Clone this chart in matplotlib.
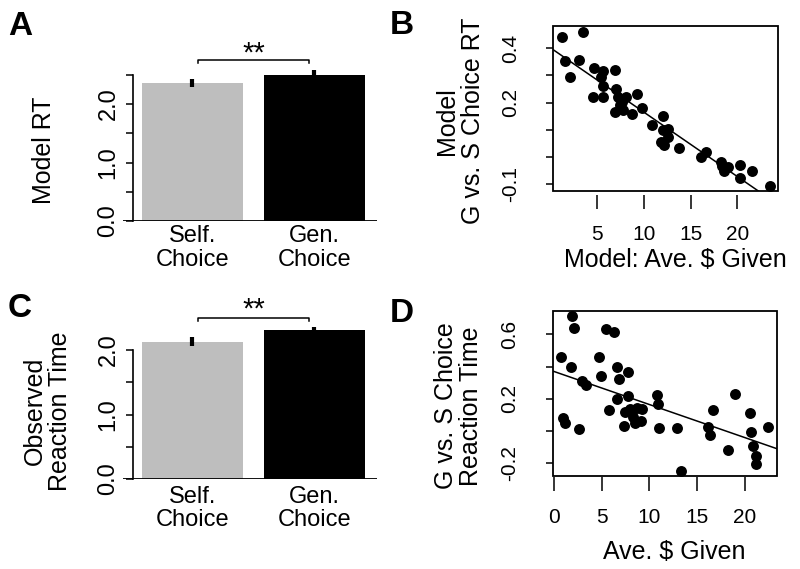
import numpy as np
import matplotlib
matplotlib.use('Agg')
import matplotlib.pyplot as plt
from matplotlib.patches import Rectangle

plt.rcParams['font.family'] = 'Liberation Sans'

# bar panels (A: model, C: observed)
bar_labels = ['Self.\nChoice', 'Gen.\nChoice']
bar_colors = ['#bebebe', 'black']
model_rt = [2.36, 2.535]
model_rt_err = [0.07, 0.05]
obs_rt = [2.13, 2.31]
obs_rt_err = [0.075, 0.045]

# scatter B: model ave $ given vs model G-S RT difference
model_given = [1.18, 3.43, 1.53, 2.99, 2.07, 4.64, 5.64, 5.36, 6.93, 5.64, 4.57, 5.57, 7.0, 7.25,
               7.61, 8.07, 7.43, 6.89, 7.79, 9.21, 8.68, 9.75, 10.82, 12.07, 12.0, 12.6, 12.6,
               11.8, 12.14, 13.78, 16.07, 16.6, 18.21, 18.39, 18.57, 19.0, 20.29, 20.25, 21.61, 23.5]
model_diff = [0.441, 0.461, 0.353, 0.357, 0.293, 0.326, 0.317, 0.296, 0.320, 0.262, 0.220, 0.222,
              0.250, 0.222, 0.204, 0.222, 0.191, 0.167, 0.173, 0.231, 0.157, 0.179, 0.118, 0.151,
              0.099, 0.102, 0.073, 0.054, 0.044, 0.034, 0.001, 0.020, -0.017, -0.033, -0.050,
              -0.038, -0.029, -0.076, -0.050, -0.106]
model_fit = (0.401, -0.02365)  # intercept, slope

# scatter D: observed ave $ given vs observed G-S RT difference
obs_given = [1.88, 2.12, 0.73, 1.78, 2.93, 3.38, 0.94, 1.21, 2.61, 4.77, 4.91, 5.47, 6.30, 6.62,
             6.79, 7.77, 5.78, 6.65, 7.77, 7.49, 7.98, 8.68, 7.38, 8.32, 8.50, 9.13, 9.2, 10.77,
             10.94, 11.0, 12.92, 13.31, 16.16, 16.34, 16.69, 18.25, 18.98, 20.52, 20.62, 20.80,
             21.11, 21.11, 22.37]
obs_diff = [0.715, 0.638, 0.461, 0.399, 0.312, 0.285, 0.077, 0.050, 0.009, 0.457, 0.341, 0.634,
            0.613, 0.399, 0.320, 0.368, 0.129, 0.196, 0.216, 0.118, 0.133, 0.139, 0.031, 0.087,
            0.046, 0.062, 0.133, 0.222, 0.166, 0.017, 0.019, -0.249, 0.021, -0.027, 0.129,
            -0.120, 0.227, 0.108, -0.006, -0.095, -0.156, -0.209, 0.023]
obs_fit = (0.370, -0.02065)

W, H = 800, 569
fig = plt.figure(figsize=(8, 5.69), dpi=100)


def px_axes(l, t, r, b):
    return fig.add_axes([l / W, 1 - b / H, (r - l) / W, (b - t) / H])


def bar_panel(ax, vals, errs, ymax_axis, br_y, br_h, star_y, lab_pad):
    xs = [0.7, 1.9]
    ax.bar(xs, vals, width=1.0, color=bar_colors, zorder=2)
    ax.errorbar(xs, vals, yerr=errs, fmt='none', ecolor='black', elinewidth=3, capsize=0,
                zorder=3, clip_on=False)
    ax.set_xlim(0.016, 2.516)
    ax.set_ylim(0, 2.5)
    for s in ['top', 'right', 'bottom']:
        ax.spines[s].set_visible(False)
    ax.spines['left'].set_position(('data', 0.11))
    ax.spines['left'].set_bounds(0, ymax_axis)
    ax.spines['left'].set_linewidth(1.2)
    ax.axhline(0, color='black', lw=1.3, zorder=4)
    yt = np.arange(0, ymax_axis + 0.01, 0.5)
    ax.set_yticks(yt)
    ax.set_yticklabels(['%.1f' % v if abs(v - round(v)) < 1e-6 else '' for v in yt],
                       rotation=90, va='center', fontsize=17)
    ax.tick_params(axis='y', length=5.4, width=1.1, pad=4)
    ax.set_xticks(xs)
    ax.set_xticklabels(bar_labels, fontsize=17, linespacing=1.1)
    ax.tick_params(axis='x', length=0, pad=lab_pad)
    # significance bracket
    x1, x2 = 0.757, 1.846
    ax.plot([x1, x1, x2, x2], [br_y - br_h, br_y, br_y, br_y - br_h], color='black', lw=1.1,
            clip_on=False)
    ax.text((x1 + x2) / 2, star_y, '**', ha='center', va='center', fontsize=21, clip_on=False)


def scatter_panel(ax, x, y, fit, xlim, ylim, yt, ylabs, xt, xoff):
    ax.scatter(x, y, s=62, color='black', zorder=3, linewidths=0)
    xs = np.array(xlim)
    ax.plot(xs, fit[0] + fit[1] * xs, color='black', lw=1.1, zorder=2)
    ax.set_xlim(*xlim)
    ax.set_ylim(*ylim)
    for s in ax.spines.values():
        s.set_visible(False)
    ax.spines['bottom'].set_position(('outward', xoff))
    ax.add_patch(Rectangle((0, 0), 1, 1, transform=ax.transAxes, fill=False, lw=1.3,
                           clip_on=False, zorder=5))
    ax.set_yticks(yt)
    ax.set_yticklabels(ylabs, rotation=90, va='center', fontsize=15)
    ax.set_xticks(xt)
    ax.set_xticklabels([str(v) for v in xt], fontsize=15)
    ax.tick_params(axis='y', length=5, width=1.1, pad=19)
    ax.tick_params(axis='x', length=10, width=1.1, pad=12)


axA = px_axes(123, 74.75, 377, 221)
bar_panel(axA, model_rt, model_rt_err, 2.5, 2.76, 0.06, 2.87, 3.2)

axC = px_axes(123, 317.75, 377, 479)
bar_panel(axC, obs_rt, obs_rt_err, 2.0, 2.50, 0.05, 2.63, 4.7)

axB = px_axes(553.3, 25.7, 777.7, 190.7)
scatter_panel(axB, model_given, model_diff, model_fit, (0.28, 24.32), (-0.124, 0.483),
              [-0.1, 0.0, 0.1, 0.2, 0.3, 0.4], ['-0.1', '', '', '0.2', '', '0.4'],
              [5, 10, 15, 20], 3)

axD = px_axes(552.7, 310.7, 776.7, 475.7)
scatter_panel(axD, obs_given, obs_diff, obs_fit, (-0.105, 23.31), (-0.28, 0.748),
              [-0.2, 0.0, 0.2, 0.4, 0.6], ['-0.2', '', '0.2', '', '0.6'],
              [0, 5, 10, 15, 20], 1)


def ftext(x, y, s, **kw):
    fig.text(x / W, 1 - y / H, s, **kw)


# axis titles
ftext(44, 150, 'Model RT', rotation=90, ha='center', va='center', fontsize=18)
ftext(47.5, 411, 'Observed\nReaction Time', rotation=90, ha='center', va='center', fontsize=18,
      linespacing=1.1)
ftext(460, 121, 'Model\nG vs. S Choice RT', rotation=90, ha='center', va='center', fontsize=18,
      linespacing=1.1)
ftext(458.5, 406, 'G vs. S Choice\nReaction Time', rotation=90, ha='center', va='center',
      fontsize=18, linespacing=1.1)
ftext(675, 267, 'Model: Ave. $ Given', ha='center', va='baseline', fontsize=18)
ftext(674, 559, 'Ave. $ Given', ha='center', va='baseline', fontsize=18)

# panel letters
ftext(8, 35, 'A', fontsize=24, fontweight='bold', va='baseline')
ftext(390, 34, 'B', fontsize=24, fontweight='bold', va='baseline')
ftext(8, 317, 'C', fontsize=24, fontweight='bold', va='baseline')
ftext(390, 322, 'D', fontsize=24, fontweight='bold', va='baseline')

plt.savefig('out.png', dpi=100)
